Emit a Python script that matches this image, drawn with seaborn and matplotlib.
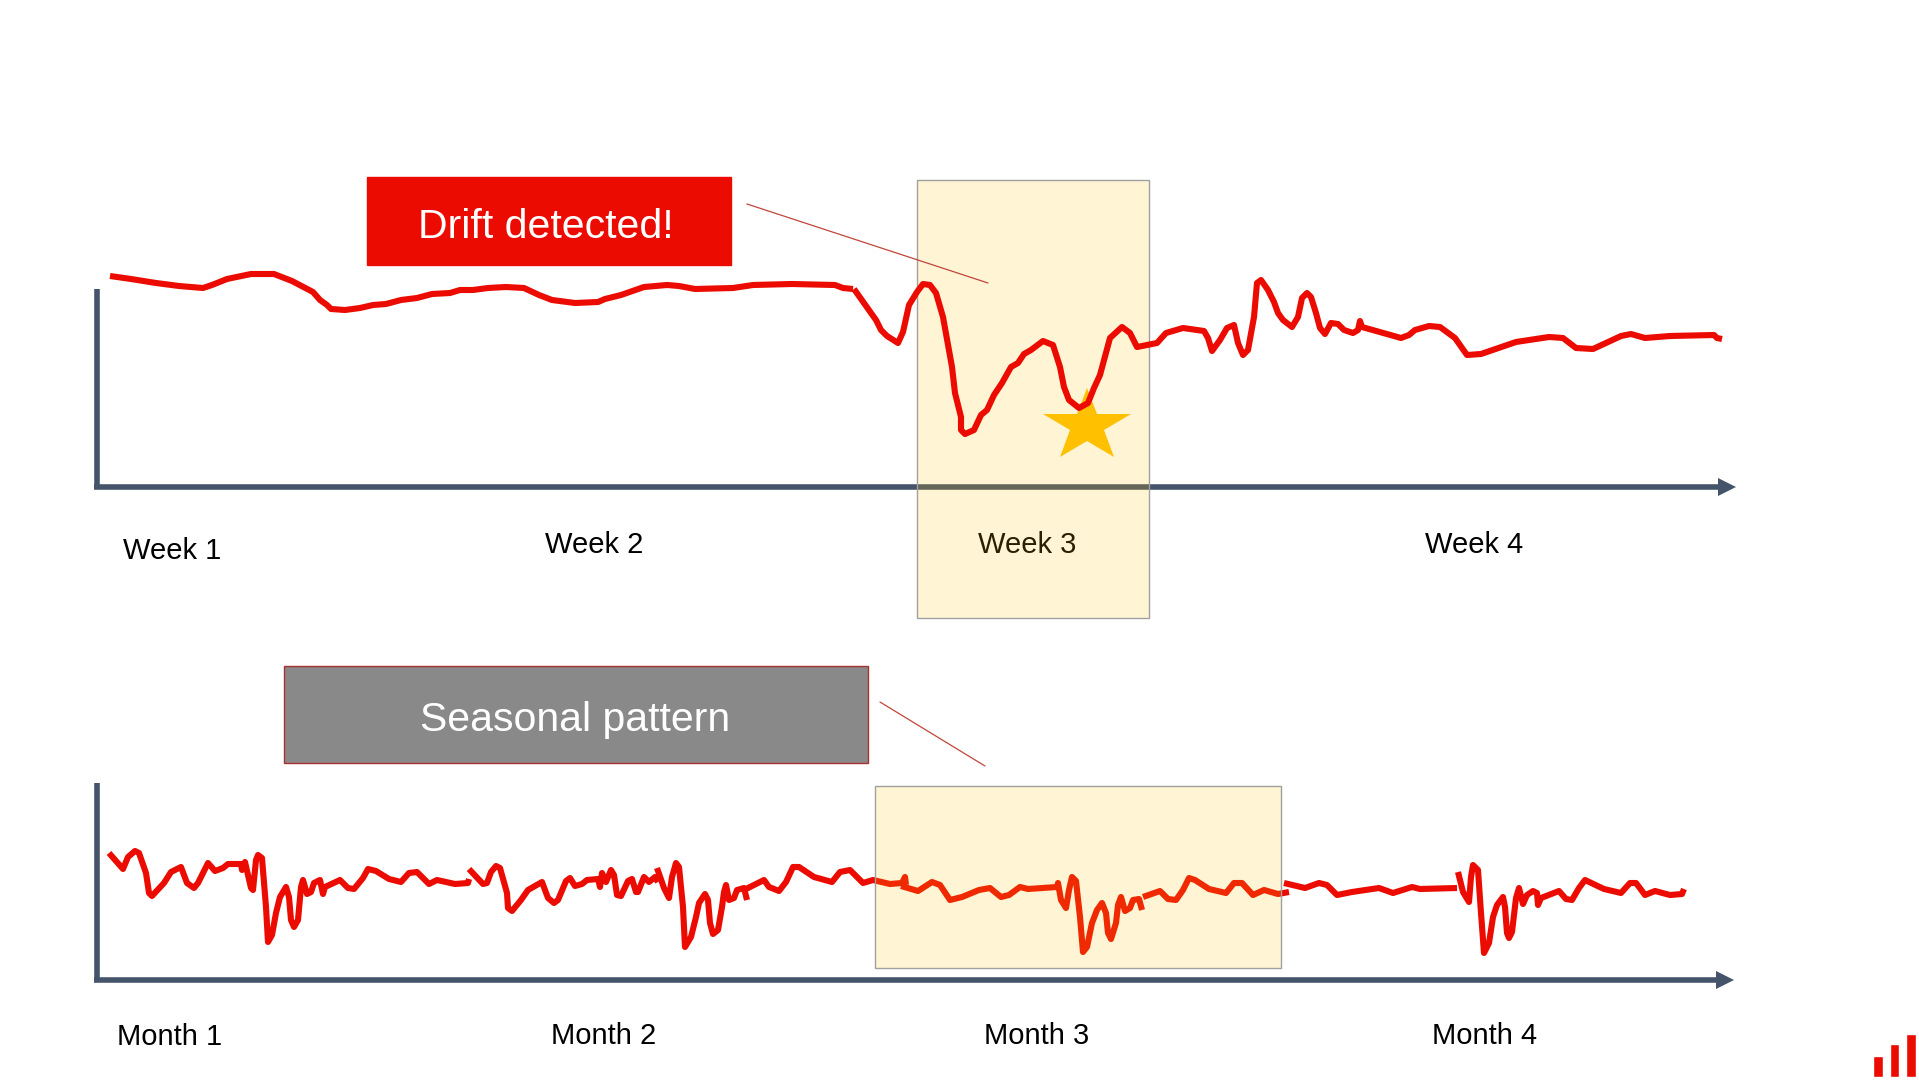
import matplotlib
matplotlib.use('Agg')
import matplotlib.pyplot as plt
from matplotlib.markers import MarkerStyle
from matplotlib.patches import Rectangle
from matplotlib.transforms import Affine2D
import seaborn as sns

RED = '#ec0b00'
SLATE = '#44546a'
GOLD = '#ffc000'

week_labels = ['Week 1', 'Week 2', 'Week 3', 'Week 4']
week_ticks = [75, 497, 930, 1377]
month_labels = ['Month 1', 'Month 2', 'Month 3', 'Month 4']
month_ticks = [73, 507, 940, 1388]
logo_bars = [21, 33, 43]

# weekly series, x = time, y = level
week_x1 = [13, 34, 59, 82, 106, 115, 130, 154, 177, 195, 216, 223, 230, 234, 248, 263, 276, 289, 304, 320, 335, 353,
           363, 376, 391, 409, 427, 442, 455, 478, 501, 508, 524, 547, 570, 582, 598, 636, 656, 695, 738, 746, 756]
week_y1 = [211, 208, 204, 201, 199, 202, 208, 213, 213, 206, 195, 187, 182, 178, 177, 179, 182, 183, 187, 189, 193, 194,
           197, 197, 199, 200, 199, 192, 187, 184, 185, 188, 192, 200, 202, 201, 198, 199, 202, 203, 202, 199, 198]
week_x2 = [757, 779, 784, 790, 801, 806, 812, 820, 826, 833, 839, 846, 855, 858, 864, 864, 868, 877, 884, 890, 897, 905,
           914, 921, 927, 934, 946, 956, 963, 967, 972, 982, 991, 997, 1003, 1013, 1025, 1033, 1040, 1060, 1069, 1086,
           1107, 1111, 1115, 1123, 1130, 1137, 1141, 1146, 1151, 1157, 1160, 1164, 1171, 1177, 1181, 1186, 1195, 1201,
           1205, 1210, 1214, 1219, 1223, 1228, 1234, 1241, 1247, 1256, 1261, 1263, 1265, 1304, 1312, 1318, 1332, 1343,
           1358, 1370, 1384, 1419, 1452, 1466, 1479, 1496, 1524, 1534, 1548, 1573, 1617, 1620, 1625]
week_y2 = [198, 167, 157, 151, 144, 155, 182, 195, 203, 202, 194, 170, 120, 94, 70, 57, 53, 57, 72, 77, 92, 104,
           120, 124, 133, 137, 146, 142, 120, 100, 87, 79, 84, 99, 112, 149, 160, 154, 140, 144, 154, 159,
           156, 149, 136, 147, 159, 162, 144, 132, 137, 170, 204, 207, 197, 185, 174, 167, 160, 170,
           189, 194, 190, 174, 159, 153, 164, 163, 157, 154, 157, 166, 160, 149, 152, 157, 161, 160,
           149, 132, 133, 145, 150, 149, 139, 138, 151, 153, 149, 151, 152, 149, 148]

# monthly series, drawn in pieces like the original
month_x1 = [12, 26, 31, 38, 42, 49, 52, 55, 67, 74, 84, 90, 97, 101, 111, 118, 126, 131, 144, 145, 148, 154, 156, 159,
            161, 165, 169, 171, 175, 179, 183, 189, 192, 194, 197, 201, 204, 206, 210, 214, 217, 223, 226, 228, 243,
            251, 257, 266, 271, 279, 292, 304, 312, 320, 332, 340, 358, 371, 372]
month_y1 = [127, 111, 123, 129, 127, 107, 87, 84, 97, 108, 113, 97, 92, 97, 117, 109, 112, 116, 116, 110, 118, 92, 90, 120,
            125, 122, 73, 38, 45, 67, 83, 93, 83, 60, 53, 60, 93, 100, 86, 88, 97, 100, 86, 93, 100,
            92, 91, 102, 111, 109, 101, 98, 107, 108, 96, 100, 96, 97, 101]
month_x2 = [372, 386, 390, 394, 399, 403, 410, 411, 415, 424, 431, 445, 451, 457, 461, 469, 473, 478, 485, 490, 501, 503,
            505, 509, 514, 517, 520, 524, 531, 535, 539, 541, 547, 552, 558, 561]
month_y2 = [111, 96, 97, 108, 114, 112, 87, 72, 69, 80, 90, 98, 82, 77, 80, 99, 102, 94, 96, 100, 101, 93,
            107, 98, 110, 105, 85, 84, 99, 101, 88, 88, 103, 98, 103, 98]
month_x3 = [560, 567, 572, 575, 579, 582, 586, 588, 594, 599, 602, 608, 611, 613, 616, 621, 625, 627, 629, 632, 637, 640,
            647, 650]
month_y3 = [112, 92, 82, 103, 117, 113, 73, 33, 43, 63, 77, 86, 80, 57, 46, 50, 73, 88, 95, 80, 82, 90, 92, 80]
month_x4 = [649, 667, 672, 682, 689, 696, 702, 717, 735, 743, 753, 766, 776, 793, 805, 808, 809]
month_y4 = [91, 100, 93, 89, 98, 113, 113, 103, 98, 108, 110, 97, 100, 96, 97, 103, 95]
month_x5 = [804, 821, 835, 843, 853, 865, 882, 893, 904, 912, 923, 931, 960, 961, 964, 969, 972, 975, 979, 983, 986, 990,
            995, 1000, 1005, 1009, 1011, 1014, 1019, 1021, 1024, 1028, 1033, 1036, 1042, 1045]
month_y5 = [94, 89, 98, 95, 80, 83, 90, 92, 83, 85, 93, 91, 93, 97, 80, 72, 90, 103, 99, 63, 28, 33,
            57, 70, 77, 67, 47, 41, 57, 75, 83, 69, 72, 80, 81, 70]
month_x6 = [1046, 1063, 1071, 1079, 1086, 1092, 1098, 1112, 1129, 1137, 1145, 1156, 1167, 1181, 1192]
month_y6 = [83, 89, 81, 80, 90, 102, 100, 91, 87, 97, 97, 85, 90, 86, 88]
month_x7 = [1187, 1208, 1222, 1230, 1240, 1255, 1282, 1296, 1315, 1323, 1360]
month_y7 = [97, 92, 97, 95, 85, 88, 92, 87, 93, 91, 92]
month_x8 = [1361, 1366, 1372, 1374, 1376, 1381, 1384, 1387, 1392, 1396, 1400, 1406, 1408, 1410, 1412, 1415, 1419, 1422,
            1426, 1430, 1436, 1440, 1441, 1444, 1462, 1469, 1475, 1482, 1488, 1507, 1524, 1533, 1539, 1548, 1558, 1573,
            1585, 1587]
month_y8 = [108, 88, 78, 103, 115, 110, 67, 27, 37, 63, 75, 83, 73, 47, 42, 48, 82, 92,
            76, 85, 89, 87, 75, 82, 89, 81, 80, 92, 100, 91, 87, 97, 97, 85, 89, 85,
            86, 91]

week_segments = [(week_x1, week_y1), (week_x2, week_y2)]
month_segments = [(month_x1, month_y1), (month_x2, month_y2), (month_x3, month_y3), (month_x4, month_y4),
                  (month_x5, month_y5), (month_x6, month_y6), (month_x7, month_y7), (month_x8, month_y8)]

sns.set_theme(style='white')
plt.rcParams['font.family'] = ['Liberation Sans', 'DejaVu Sans']

W, H = 1919, 1080
fig = plt.figure(figsize=(W / 100, H / 100), dpi=100, facecolor='white')


def make_panel(baseline, axis_height, arrow_end, ticks, labels, pads):
    ax = fig.add_axes([97 / W, (H - baseline) / H, 1640 / W, 320 / H], facecolor='none')
    ax.set_xlim(0, 1640)
    ax.set_ylim(0, 320)
    ax.set_yticks([])
    ax.set_xticks(ticks, labels)
    ax.tick_params(axis='x', length=0, labelsize=21, labelcolor='black')
    for tick, pad in zip(ax.xaxis.get_major_ticks(), pads):
        tick.set_pad(pad)
    for side in ['top', 'right']:
        ax.spines[side].set_visible(False)
    for side in ['left', 'bottom']:
        ax.spines[side].set_color(SLATE)
        ax.spines[side].set_linewidth(4)
        ax.spines[side].set_capstyle('butt')
    ax.spines['left'].set_bounds(0, axis_height)
    ax.spines['bottom'].set_bounds(-3, arrow_end - 10)
    ax.plot([arrow_end - 8.5], [0], marker='>', ms=12.5, color=SLATE, mew=0, clip_on=False)
    return ax


def draw_series(ax, segments, z):
    for xs, ys in segments:
        sns.lineplot(x=xs, y=ys, ax=ax, color=RED, linewidth=4.4, sort=False, estimator=None, zorder=z,
                     solid_joinstyle='round', solid_capstyle='butt', clip_on=False)


def callout(ax, x0, x1, y0, y1, face, edge, label, text_x, text_y, line_x, line_y):
    ax.add_patch(Rectangle((x0, y0), x1 - x0, y1 - y0, facecolor=face, edgecolor=edge, lw=1, clip_on=False, zorder=5))
    ax.text(text_x, text_y, label, color='white', fontsize=29.5, ha='center', va='center', zorder=6)
    ax.plot(line_x, line_y, color='#c0453a', lw=0.9, clip_on=False, zorder=5)


ax_week = make_panel(487, 198, 1638, week_ticks, week_labels, [36, 32, 32, 32])
ax_month = make_panel(980, 197, 1636, month_ticks, month_labels, [31, 30, 30, 30])

# weekly highlight sits over the axis but under the line and the star
ax_week.add_patch(Rectangle((820, -130.5), 232, 437.5, facecolor=(1, 0.753, 0, 0.17), edgecolor='#a0a0a0', lw=1,
                            clip_on=False, zorder=3))
star = MarkerStyle('*', transform=Affine2D().scale(1, 0.83))
ax_week.plot([990], [61], marker=star, ms=66, color=GOLD, mew=0, clip_on=False, zorder=3.5)
draw_series(ax_week, week_segments, 4)

# monthly highlight is on top of the line, that is why the line turns orange there
draw_series(ax_month, month_segments, 2.8)
ax_month.add_patch(Rectangle((778, 12), 406, 182, facecolor=(1, 0.753, 0, 0.17), edgecolor='#a0a0a0', lw=1,
                             clip_on=False, zorder=3))

callout(ax_week, 270, 634, 222, 310, RED, RED, 'Drift detected!', 449, 260, [650, 891], [283, 204])
callout(ax_month, 187, 771, 217, 314, '#898989', '#a83232', 'Seasonal pattern', 478, 260, [783, 888], [278, 214])

# logo bottom right
ax_logo = fig.add_axes([1873 / W, (H - 1077) / H, 43 / W, 43 / H], facecolor='none')
sns.barplot(x=[0, 1, 2], y=logo_bars, ax=ax_logo, color=RED, saturation=1, width=0.6)
ax_logo.set_xlim(-0.3, 2.3)
ax_logo.set_ylim(0, 43)
ax_logo.axis('off')

fig.savefig('out.png', dpi=100)
